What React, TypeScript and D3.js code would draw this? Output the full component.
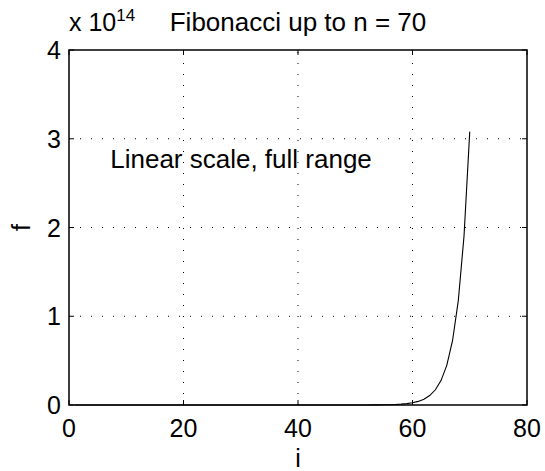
import React, {useRef, useEffect} from 'react';
import * as d3 from 'd3';

// f(i) for i = 1..70 (f(1)=1, f(2)=2, f(i)=f(i-1)+f(i-2))
const idx: number[] = Array.from({length: 70}, (_, k) => k + 1);
const fib: number[] = [
    1, 2, 3, 5, 8, 13, 21, 34, 55, 89,
    144, 233, 377, 610, 987, 1597, 2584, 4181, 6765, 10946,
    17711, 28657, 46368, 75025, 121393, 196418, 317811, 514229, 832040, 1346269,
    2178309, 3524578, 5702887, 9227465, 14930352, 24157817, 39088169, 63245986, 102334155, 165580141,
    267914296, 433494437, 701408733, 1134903170, 1836311903, 2971215073, 4807526976, 7778742049, 12586269025, 20365011074,
    32951280099, 53316291173, 86267571272, 139583862445, 225851433717, 365435296162, 591286729879, 956722026041, 1548008755920, 2504730781961,
    4052739537881, 6557470319842, 10610209857723, 17167680177565, 27777890035288, 44945570212853, 72723460248141, 117669030460994, 190392490709135, 308061521170129
];
const xTicks = [0, 20, 40, 60, 80];
const yTicks = [0, 1, 2, 3, 4]; // x 10^14

const config = {
    w: 545,
    h: 471,
    left: 69,
    right: 527,
    top: 50,
    bottom: 405,
    font: 'Arial, "Liberation Sans", Helvetica, sans-serif',
    fs: 25
};

export default function App() {
    const svgRef = useRef<SVGSVGElement>(null);

    useEffect(() => {
        const svg = d3.select(svgRef.current);
        svg.selectAll('*').remove();

        const x = d3.scaleLinear().domain([0, 80]).range([config.left, config.right]);
        const y = d3.scaleLinear().domain([0, 4e14]).range([config.bottom, config.top]);
        const yv = (v: number) => y(v * 1e14);

        // grid (dotted)
        const grid = svg.append('g')
            .attr('stroke', '#000')
            .attr('stroke-width', 1)
            .attr('stroke-dasharray', '1,10');
        xTicks.slice(1, -1).forEach(t => {
            grid.append('line')
                .attr('x1', x(t)).attr('x2', x(t))
                .attr('y1', config.bottom).attr('y2', config.top);
        });
        yTicks.slice(1, -1).forEach(t => {
            grid.append('line')
                .attr('x1', config.left).attr('x2', config.right)
                .attr('y1', yv(t)).attr('y2', yv(t));
        });

        // data line
        const line = d3.line<number>()
            .x((d, i) => x(idx[i]))
            .y(d => y(d));
        svg.append('path')
            .datum(fib)
            .attr('d', line)
            .attr('fill', 'none')
            .attr('stroke', '#000')
            .attr('stroke-width', 1.1);

        // box + inward ticks
        svg.append('rect')
            .attr('x', config.left).attr('y', config.top)
            .attr('width', config.right - config.left)
            .attr('height', config.bottom - config.top)
            .attr('fill', 'none')
            .attr('stroke', '#000')
            .attr('stroke-width', 1.5);
        const tl = 5;
        const ticks = svg.append('g').attr('stroke', '#000').attr('stroke-width', 1);
        xTicks.forEach(t => {
            ticks.append('line').attr('x1', x(t)).attr('x2', x(t)).attr('y1', config.bottom).attr('y2', config.bottom - tl);
            ticks.append('line').attr('x1', x(t)).attr('x2', x(t)).attr('y1', config.top).attr('y2', config.top + tl);
        });
        yTicks.forEach(t => {
            ticks.append('line').attr('x1', config.left).attr('x2', config.left + tl).attr('y1', yv(t)).attr('y2', yv(t));
            ticks.append('line').attr('x1', config.right).attr('x2', config.right - tl).attr('y1', yv(t)).attr('y2', yv(t));
        });

        const txt = svg.append('g')
            .attr('font-family', config.font)
            .attr('font-size', config.fs)
            .attr('fill', '#000');

        xTicks.forEach(t => {
            txt.append('text')
                .attr('x', x(t)).attr('y', 437)
                .attr('text-anchor', 'middle')
                .text(t);
        });
        yTicks.forEach(t => {
            txt.append('text')
                .attr('x', config.left - 8).attr('y', yv(t) + 9)
                .attr('text-anchor', 'end')
                .text(t);
        });

        // exponent
        const ex = txt.append('text').attr('x', config.left).attr('y', 31);
        ex.append('tspan').text('x 10');
        ex.append('tspan').attr('font-size', 17).attr('dy', -10).text('14');

        // title
        txt.append('text')
            .attr('x', (config.left + config.right) / 2).attr('y', 31)
            .attr('text-anchor', 'middle')
            .attr('font-size', 26)
            .text('Fibonacci up to n = 70');

        // axis labels
        txt.append('text')
            .attr('x', (config.left + config.right) / 2).attr('y', 467)
            .attr('text-anchor', 'middle')
            .text('i');
        txt.append('text')
            .attr('x', 0).attr('y', 0)
            .attr('transform', `translate(30,${(config.top + config.bottom) / 2}) rotate(-90)`)
            .attr('text-anchor', 'middle')
            .text('f');

        // annotation
        txt.append('text')
            .attr('x', x(7.2)).attr('y', yv(2.67))
            .attr('font-size', 26)
            .text('Linear scale, full range');
    }, []);

    return (
        <div style={{position: 'absolute', left: 0, top: 0}}>
            <svg ref={svgRef} width={config.w} height={config.h} style={{display: 'block', background: '#fff'}}></svg>
        </div>
    );
}
